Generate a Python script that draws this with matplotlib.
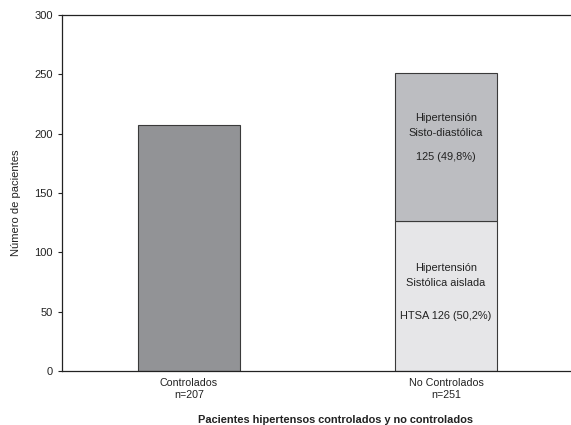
import numpy as np
import matplotlib
matplotlib.use('Agg')
import matplotlib.pyplot as plt

plt.rcParams['font.family'] = ['Liberation Sans', 'DejaVu Sans']

categories = ['Controlados\nn=207', 'No Controlados\nn=251']
controlados = [207, 0]
htsa = [0, 126]          # hipertension sistolica aislada
sisto_diast = [0, 125]   # hipertension sisto-diastolica

fig = plt.figure(figsize=(5.71, 4.25), dpi=100)
ax = fig.add_axes([0.1086, 0.127, 0.8914, 0.8377])

x = np.arange(len(categories))
w = 0.4
edge = '#3a3a3a'
ax.bar(x[0], controlados[0], w, color='#929396', edgecolor=edge, linewidth=0.8)
ax.bar(x[1], htsa[1], w, color='#e6e6e8', edgecolor=edge, linewidth=0.8)
ax.bar(x[1], sisto_diast[1], w, bottom=htsa[1], color='#bcbdc1', edgecolor=edge, linewidth=0.8)

# segment labels
tc = '#222222'
fs = 7.9
mid_low = htsa[1] / 2
mid_top = htsa[1] + sisto_diast[1] / 2
ax.text(x[1], mid_low + 24, 'Hipertensión', ha='center', va='center', fontsize=fs, color=tc)
ax.text(x[1], mid_low + 11, 'Sistólica aislada', ha='center', va='center', fontsize=fs, color=tc)
ax.text(x[1], mid_low - 17, 'HTSA %d (50,2%%)' % htsa[1], ha='center', va='center', fontsize=fs, color=tc)
ax.text(x[1], mid_top + 25, 'Hipertensión', ha='center', va='center', fontsize=fs, color=tc)
ax.text(x[1], mid_top + 12, 'Sisto-diastólica', ha='center', va='center', fontsize=fs, color=tc)
ax.text(x[1], mid_top - 8, '%d (49,8%%)' % sisto_diast[1], ha='center', va='center', fontsize=fs, color=tc)

ax.set_xlim(-0.494, 1.486)
ax.set_ylim(0, 300)
ax.set_yticks(range(0, 301, 50))
ax.set_xticks(x)
ax.set_xticklabels(categories, fontsize=7.7, color=tc, linespacing=1.3)
ax.tick_params(axis='x', length=0, pad=5)
ax.tick_params(axis='y', labelsize=8, length=3, width=0.8, colors=tc)
ax.spines['right'].set_visible(False)
for s in ['left', 'bottom', 'top']:
    ax.spines[s].set_linewidth(0.9)
    ax.spines[s].set_color(tc)

ax.set_ylabel('Número de pacientes', fontsize=8, color=tc)
ax.yaxis.set_label_coords(-0.08, 0.472)
ax.set_xlabel('Pacientes hipertensos controlados y no controlados', fontsize=7.9,
              fontweight='bold', color=tc)
ax.xaxis.set_label_coords(0.538, -0.124)

fig.savefig('out.png', dpi=100)
